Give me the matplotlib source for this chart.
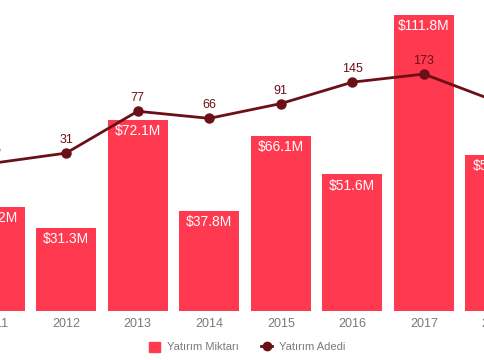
import matplotlib
matplotlib.use("Agg")
import matplotlib.pyplot as plt
from matplotlib.lines import Line2D
from matplotlib.patches import Patch

years = ["2011", "2012", "2013", "2014", "2015", "2016", "2017", "2018"]
amount_musd = [39.2, 31.3, 72.1, 37.8, 66.1, 51.6, 111.8, 58.9]   # Yatırım Miktarı
deal_count = [25, 31, 77, 66, 91, 145, 173, 96]                  # Yatırım Adedi

BAR = "#FF3A50"
LINE = "#6A1016"
GREY = "#7A7A7A"

plt.rcParams["font.family"] = ["Liberation Sans", "DejaVu Sans"]

fig = plt.figure(figsize=(4.85, 3.6), dpi=100)
ax = fig.add_axes([0, 49 / 360, 1, 311 / 360])
x = list(range(len(years)))

ax.bar(x, amount_musd, width=0.84, color=BAR, zorder=1)
for xi, v in zip(x, amount_musd):
    ax.annotate(f"${v}M", (xi, v), xytext=(0, -3), textcoords="offset points",
                ha="center", va="top", color="white", fontsize=10,
                annotation_clip=False)

# year labels drawn by hand so the half-visible edge years still show
for xi, yr in zip(x, years):
    ax.annotate(yr, (xi, 0), xycoords=("data", "axes fraction"),
                xytext=(0, -5), textcoords="offset points", ha="center",
                va="top", color=GREY, fontsize=9, annotation_clip=False)

ax.set_ylim(0, 117.5)
ax.set_yticks([])
ax.set_xticks([])
for s in ax.spines.values():
    s.set_visible(False)

# deal count on a log axis (that is how the points sit)
ax2 = ax.twinx()
ax2.set_yscale("log")
ax2.plot(x, deal_count, color=LINE, lw=2, marker="o", ms=6.5, zorder=3)
for xi, v in zip(x, deal_count):
    ax2.annotate(str(v), (xi, v), xytext=(0, 5), textcoords="offset points",
                 ha="center", va="bottom", color=LINE, fontsize=9,
                 annotation_clip=False)
ax2.set_ylim(1, 866)
ax2.set_yticks([])
ax2.set_yticks([], minor=True)
for s in ax2.spines.values():
    s.set_visible(False)

# the reference is a crop: first and last year run off the edges
ax.set_xlim(0.077, 6.853)

handles = [Patch(color=BAR),
           Line2D([], [], color=LINE, marker="o", ms=6, lw=2)]
fig.legend(handles, ["Yatırım Miktarı", "Yatırım Adedi"], loc="center",
           bbox_to_anchor=(0.51, 0.036), ncol=2, frameon=False, fontsize=8,
           labelcolor=GREY, handlelength=1.0, handleheight=1.0,
           columnspacing=2.0, handletextpad=0.6)

fig.savefig("out.png", dpi=100)
